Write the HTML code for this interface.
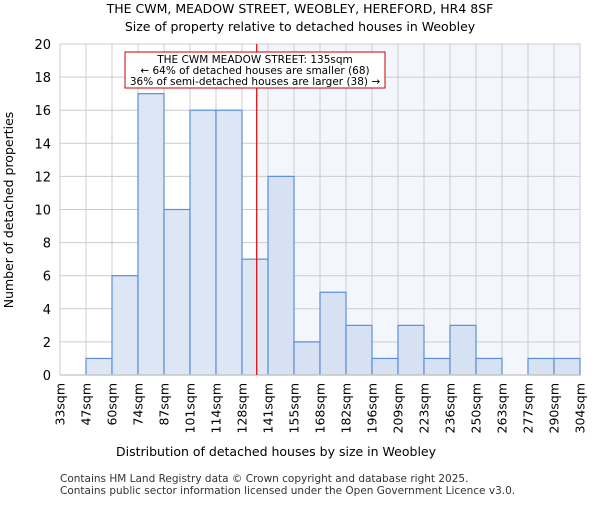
<!DOCTYPE html>
<html><head><meta charset="utf-8"><style>
body{margin:0;background:#fff;font-family:"Liberation Sans","DejaVu Sans",sans-serif}
svg text{font-family:"DejaVu Sans","Liberation Sans",sans-serif}
</style></head><body>
<svg id="c" width="600" height="500">
<text x="300" y="13" text-anchor="middle" font-size="12.5">THE CWM, MEADOW STREET, WEOBLEY, HEREFORD, HR4 8SF</text>
<text x="300" y="31" text-anchor="middle" font-size="12.5">Size of property relative to detached houses in Weobley</text>
<g id="plot"></g>
<text x="276" y="456" text-anchor="middle" font-size="12.5">Distribution of detached houses by size in Weobley</text>
<text transform="translate(13,210) rotate(-90)" text-anchor="middle" font-size="12.5">Number of detached properties</text>
<text x="60" y="482" font-size="10.5" fill="#333">Contains HM Land Registry data © Crown copyright and database right 2025.</text>
<text x="60" y="494" font-size="10.5" fill="#333">Contains public sector information licensed under the Open Government Licence v3.0.</text>
</svg>
<script>
const binLabels=["33sqm","47sqm","60sqm","74sqm","87sqm","101sqm","114sqm","128sqm","141sqm","155sqm","168sqm","182sqm","196sqm","209sqm","223sqm","236sqm","250sqm","263sqm","277sqm","290sqm","304sqm"];
const binEdges=[33,47,60,74,87,101,114,128,141,155,168,182,196,209,223,236,250,263,277,290,304];
const counts=[0,1,6,17,10,16,16,7,12,2,5,3,1,3,1,3,1,0,1,1];
const yTicks=[0,2,4,6,8,10,12,14,16,18,20];
const propertySize=135;
const L=60,R=580,T=44,B=375,yMax=20;
const n=counts.length;
const xi=i=>L+i*(R-L)/n;
const xv=v=>L+(v-binEdges[0])/(binEdges[n]-binEdges[0])*(R-L);
const y=v=>B-v/yMax*(B-T);
const NS="http://www.w3.org/2000/svg";
const g=document.getElementById('plot');
function mk(t,a){const e=document.createElementNS(NS,t);for(const k in a)e.setAttribute(k,a[k]);g.appendChild(e);return e;}
const px=xv(propertySize)+1;
let sh=mk('rect',{x:px,y:T,width:R-px,height:B-T,fill:'#f3f6fd'});


yTicks.forEach(t=>{
 let l=mk('line',{x1:L,x2:R,y1:y(t),y2:y(t),stroke:'#cccccc','stroke-width':1});
 
 
 let tx=mk('text',{x:L-9,y:y(t)+5,'text-anchor':'end','font-size':13});
 tx.textContent=t;
 
 
});
binLabels.forEach((s,i)=>{
 let l=mk('line',{x1:xi(i),x2:xi(i),y1:T,y2:B,stroke:'#cccccc','stroke-width':1});
 
 
 let tx=mk('text',{transform:`translate(${xi(i)+4.5},${B+8}) rotate(-90)`,'text-anchor':'end','font-size':12.5});
 tx.textContent=s;
 
 
});
counts.forEach((c,i)=>{
 if(c<=0)return;
 const right=binEdges[i]>=propertySize;
 let r=mk('rect',{x:xi(i),y:y(c),width:xi(i+1)-xi(i),height:B-y(c),fill:right?'#d6e1f3':'#dce6f4',stroke:'#5b8fd6','stroke-width':1.2});
 
 
});
let ax=mk('line',{x1:L,x2:R,y1:B,y2:B,stroke:'#cccccc','stroke-width':1.5});


let ml=mk('line',{x1:px,x2:px,y1:T,y2:B,stroke:'#dd0000','stroke-width':1.2});


let box=mk('rect',{x:125,y:52,width:260,height:36,fill:'#fff',stroke:'#cc0000','stroke-width':1});


["THE CWM MEADOW STREET: 135sqm","← 64% of detached houses are smaller (68)","36% of semi-detached houses are larger (38) →"].forEach((s,k)=>{
 let t=mk('text',{x:255,y:63+k*11,'text-anchor':'middle','font-size':10.5});
 t.textContent=s;
 
 
});
</script>
</body></html>
